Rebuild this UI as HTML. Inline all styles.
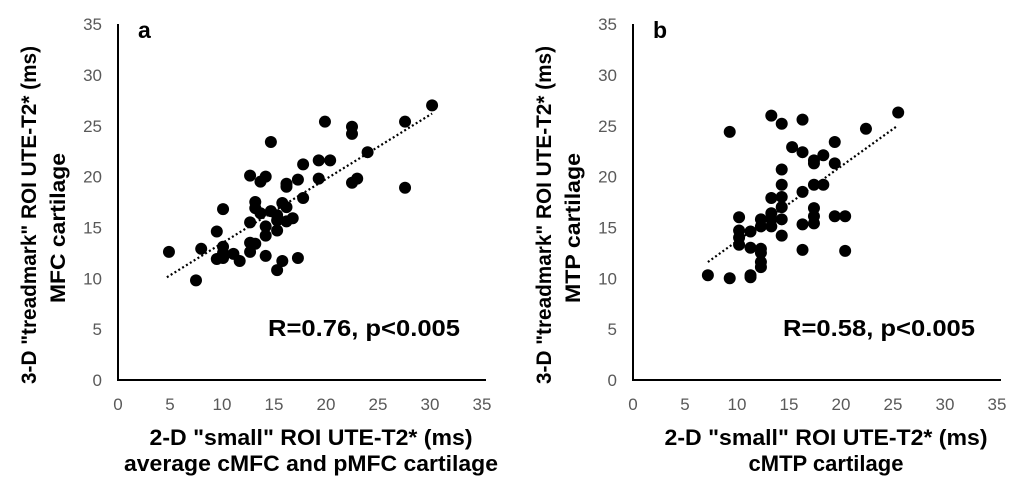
<!DOCTYPE html>
<html><head><meta charset="utf-8"><style>
body{margin:0;background:#fff;}
svg{display:block;font-family:"Liberation Sans",Arial,sans-serif;}
</style></head><body>
<svg id="svg" width="1030" height="493" viewBox="0 0 1030 493"></svg>
<script>
const ticks = [0,5,10,15,20,25,30,35];
const aX = [4.9,7.5,8.0,9.5,10.1,9.5,10.1,10.1,10.1,11.1,11.7,12.7,12.7,12.7,12.7,13.2,13.2,13.2,13.7,14.2,13.7,14.2,14.2,14.2,14.7,14.7,15.3,15.3,15.3,15.3,15.8,15.8,16.2,16.2,16.2,16.2,16.8,17.3,17.3,17.8,17.8,19.3,19.3,19.9,20.4,22.5,22.5,22.5,23.0,24.0,27.6,27.6,30.2];
const aY = [12.6,9.8,12.9,14.6,16.8,11.9,12.0,13.1,12.5,12.4,11.7,20.1,15.5,13.5,12.6,13.4,17.5,16.9,19.5,20.0,16.4,15.1,14.2,12.2,23.4,16.6,16.2,15.7,14.7,10.8,17.4,11.7,19.3,19.0,17.0,15.6,15.9,19.7,12.0,21.2,17.9,21.6,19.8,25.4,21.6,24.9,24.2,19.4,19.8,22.4,25.4,18.9,27.0];
const aTrend = [[4.7,10.1],[30.2,26.2]];
const bX = [7.2,9.3,9.3,10.2,10.2,10.2,10.2,11.3,11.3,11.3,11.3,12.3,12.3,12.3,12.3,12.3,12.3,13.3,13.3,13.3,13.3,13.3,14.3,14.3,14.3,14.3,14.3,14.3,14.3,15.3,16.3,16.3,16.3,16.3,16.3,17.4,17.4,17.4,17.4,17.4,17.4,18.3,18.3,19.4,19.4,19.4,20.4,20.4,22.4,25.5];
const bY = [10.3,10.0,24.4,16.0,14.7,14.0,13.3,14.6,13.0,10.3,10.1,15.8,15.1,12.9,12.5,11.6,11.1,26.0,17.9,16.4,15.8,15.1,25.2,20.7,19.2,18.0,17.0,15.8,14.2,22.9,25.6,22.4,18.5,15.3,12.8,21.6,21.3,19.2,16.9,16.1,15.4,22.1,19.2,23.4,21.3,16.1,16.1,12.7,24.7,26.3];
const bTrend = [[7.2,11.6],[25.3,24.9]];

const NS="http://www.w3.org/2000/svg";
const svg=document.getElementById('svg');
function mk(tag,attrs,parent,text){const e=document.createElementNS(NS,tag);for(const k in attrs)e.setAttribute(k,attrs[k]);if(text!==undefined)e.textContent=text;(parent||svg).appendChild(e);return e;}

function panel(ox,letter,xs,ys,trend,rtext,ytitle2,xtitle2,x2len,key){
  const g=mk('g',{});
  
  
  const sx=v=>ox+v*10.4, sy=v=>380-v*10.17;
  const ax=mk('path',{d:`M${ox} 24V380H${sx(35)+4}`,stroke:'#000','stroke-width':2,fill:'none'},g);
  
  
  ticks.forEach(t=>{
    const yl=mk('text',{x:ox-16,y:sy(t)+6,'text-anchor':'end','font-size':17,fill:'#595959'},g,String(t));
    
    
    const xl=mk('text',{x:sx(t),y:410,'text-anchor':'middle','font-size':17,fill:'#595959'},g,String(t));
    
    
  });
  const tl=mk('line',{x1:sx(trend[0][0]),y1:sy(trend[0][1]),x2:sx(trend[1][0]),y2:sy(trend[1][1]),stroke:'#000','stroke-width':2.2,'stroke-dasharray':'2 2.5'},g);
  
  
  xs.forEach((x,i)=>{
    const c=mk('circle',{cx:sx(x),cy:sy(ys[i]),r:6,fill:'#000'},g);
    
    
  });
  const l=mk('text',{x:ox+20,y:38,'font-size':23,'font-weight':'bold'},g,letter);
  
  
  const r=mk('text',{x:ox+150,y:336,'font-size':23,'font-weight':'bold',textLength:192,lengthAdjust:'spacingAndGlyphs'},g,rtext);
  
  
  const xt1=mk('text',{x:ox+193,y:445,'text-anchor':'middle','font-size':22,'font-weight':'bold',textLength:323,lengthAdjust:'spacingAndGlyphs'},g,'2-D "small" ROI UTE-T2* (ms)');
  
  
  const xt2attrs={x:ox+193,y:471,'text-anchor':'middle','font-size':22,'font-weight':'bold'};
  if(x2len){xt2attrs.textLength=x2len;xt2attrs.lengthAdjust='spacingAndGlyphs';}
  const xt2=mk('text',xt2attrs,g,xtitle2);
  
  
  const yt1=mk('text',{x:0,y:0,transform:`translate(${ox-82},215) rotate(-90)`,'text-anchor':'middle','font-size':21,'font-weight':'bold',textLength:338,lengthAdjust:'spacingAndGlyphs'},g,'3-D "treadmark" ROI UTE-T2* (ms)');
  
  
  const yt2=mk('text',{x:0,y:0,transform:`translate(${ox-53},228) rotate(-90)`,'text-anchor':'middle','font-size':21,'font-weight':'bold',textLength:150,lengthAdjust:'spacingAndGlyphs'},g,ytitle2);
  
  
}
panel(118,'a',aX,aY,aTrend,'R=0.76, p<0.005','MFC cartilage','average cMFC and pMFC cartilage',374,'a');
panel(633,'b',bX,bY,bTrend,'R=0.58, p<0.005','MTP cartilage','cMTP cartilage',0,'b');
</script>
</body></html>
